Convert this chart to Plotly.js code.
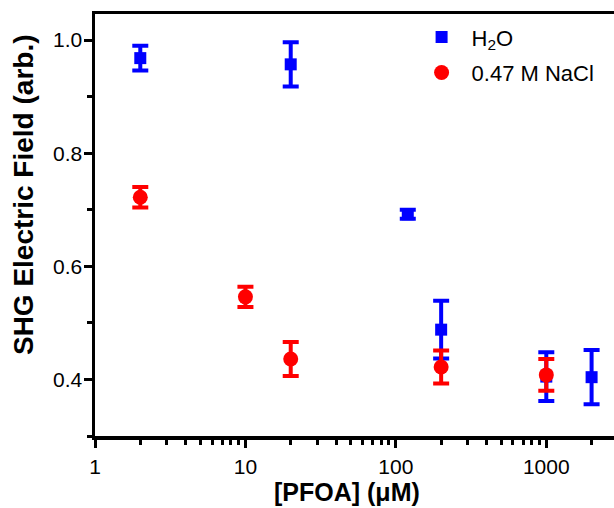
<!DOCTYPE html>
<html>
<head>
<meta charset="utf-8">
<script src="https://cdn.plot.ly/plotly-3.0.1.min.js"></script>
<style>html,body{margin:0;padding:0;background:#fff;}#chart{width:614px;height:508px;}</style>
</head>
<body>
<div id="chart"></div>
<script>
// PFOA concentration (µM) and SHG electric field (arb.)
const concH2O  = [2, 20, 120, 200, 1000, 2000];
const fieldH2O = [0.968, 0.957, 0.692, 0.488, 0.405, 0.404];
const errH2O   = [0.022, 0.039, 0.008, 0.051, 0.043, 0.048];

const concNaCl  = [2, 10, 20, 200, 1000];
const fieldNaCl = [0.722, 0.546, 0.436, 0.422, 0.408];
const errNaCl   = [0.018, 0.018, 0.030, 0.029, 0.028];

const seriesNames = ['H<sub>2</sub>O', '0.47 M NaCl'];
const xTickVals = [1, 10, 100, 1000];
const xTickText = ['1', '10', '100', '1000'];
const yTickVals = [0.4, 0.6, 0.8, 1.0];
const yTickText = ['0.4', '0.6', '0.8', '1.0'];
const xTitle = '[PFOA] (μM)';
const yTitle = 'SHG Electric Field (arb.)';

const FONT = 'Liberation Sans, Arial, sans-serif';

const traces = [
  {
    x: concH2O, y: fieldH2O, name: seriesNames[0], type: 'scatter', mode: 'markers',
    legendgroup: 'a',
    marker: {symbol: 'square', size: 12, color: '#0000ff'},
    error_y: {type: 'data', array: errH2O, visible: true, color: '#0000ff', thickness: 4, width: 8}
  },
  {
    x: concNaCl, y: fieldNaCl, name: seriesNames[1], type: 'scatter', mode: 'markers',
    legendgroup: 'b',
    marker: {symbol: 'circle', size: 15, color: '#ff0000'},
    error_y: {type: 'data', array: errNaCl, visible: true, color: '#ff0000', thickness: 4, width: 8}
  }
];

const layout = {
  width: 614, height: 508,
  margin: {l: 95, r: 0, t: 14, b: 72, pad: 0},
  paper_bgcolor: '#ffffff', plot_bgcolor: '#ffffff',
  font: {family: FONT, color: '#000000', size: 21},
  showlegend: true,
  legend: {
    x: 0.61, y: 0.995, xanchor: 'left', yanchor: 'top',
    bgcolor: 'rgba(0,0,0,0)', borderwidth: 0,
    font: {family: FONT, size: 22, color: '#000000'},
    itemwidth: 50, tracegroupgap: 4
  },
  xaxis: {
    type: 'log', range: [0, 3.45],
    showgrid: false, zeroline: false,
    showline: true, linecolor: '#000000', linewidth: 3.5, mirror: true,
    ticks: 'outside', ticklen: 8, tickwidth: 3, tickcolor: '#000000',
    tickmode: 'array', tickvals: xTickVals, ticktext: xTickText,
    tickfont: {family: FONT, size: 21, color: '#000000'},
    ticklabelstandoff: 1,
    minor: {ticks: 'outside', ticklen: 5, tickwidth: 3, tickcolor: '#000000', dtick: 'D1', showgrid: false}
  },
  yaxis: {
    range: [0.3, 1.046],
    showgrid: false, zeroline: false,
    showline: true, linecolor: '#000000', linewidth: 3.5, mirror: false,
    ticks: 'outside', ticklen: 8, tickwidth: 3, tickcolor: '#000000',
    tickmode: 'array', tickvals: yTickVals, ticktext: yTickText,
    tickfont: {family: FONT, size: 21, color: '#000000'},
    ticklabelstandoff: -3,
    minor: {ticks: 'outside', ticklen: 5, tickwidth: 3, tickcolor: '#000000', dtick: 0.1, tick0: 0.3, showgrid: false}
  },
  annotations: [
    {
      text: '<b>' + yTitle + '</b>', textangle: -90, showarrow: false,
      xref: 'paper', yref: 'paper', x: 0, y: 0.571, xanchor: 'center', yanchor: 'middle',
      xshift: -72, font: {family: FONT, size: 28, color: '#000000'}
    },
    {
      text: '<b>' + xTitle + '</b>', showarrow: false,
      xref: 'paper', yref: 'paper', x: 0.4865, y: -0.1327, xanchor: 'center', yanchor: 'middle',
      font: {family: FONT, size: 25, color: '#000000'}
    }
  ]
};

Plotly.newPlot('chart', traces, layout, {displayModeBar: false, staticPlot: true});
</script>
</body>
</html>
